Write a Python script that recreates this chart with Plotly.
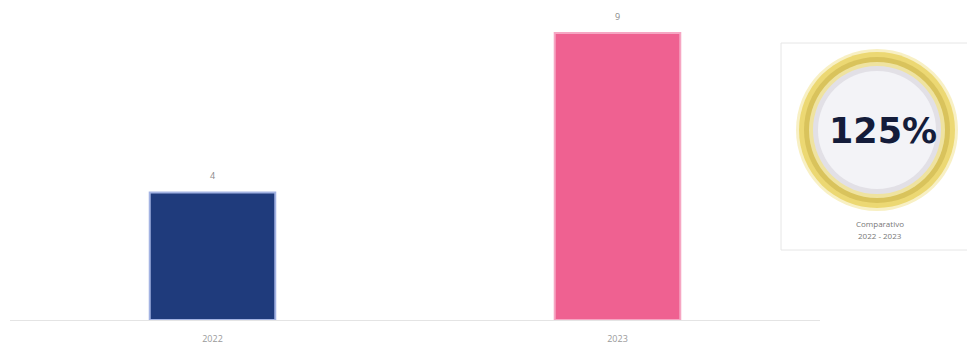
import plotly.graph_objects as go

# chart data
years = ["2022", "2023"]
counts = [4, 9]
bar_colors = ["#1f3b7c", "#ef6191"]
edge_colors = ["#a3b3e3", "#f6a6c3"]
growth_label = "125%"
badge_caption = ["Comparativo", "2022 - 2023"]

# the page body has an 8px margin, so the figure starts at (8, 8) on screen
OFF = 8
W, H = 967, 343
L, R, T, B = 2, 155, 0, 31
PW, PH = W - L - R, H - T - B


def px_x(sx):
    """Screen x in pixels -> paper x."""
    return (sx - OFF - L) / PW


def px_y(sy):
    """Screen y in pixels -> paper y."""
    return (PH - (sy - OFF - T)) / PH


fig = go.Figure()
fig.add_trace(go.Bar(
    x=years, y=counts,
    width=0.31,
    marker=dict(color=bar_colors, line=dict(color=edge_colors, width=2)),
    hoverinfo="x+y",
))

# value labels sitting a little above each bar
annotations = [
    dict(text=str(v), x=i, y=v, xref="x", yref="y", yshift=17,
         xanchor="center", yanchor="middle",
         showarrow=False, font=dict(size=9, color="#8a8a8a"))
    for i, v in enumerate(counts)
]

shapes = []
# badge frame
shapes.append(dict(type="rect", xref="paper", yref="paper",
                   x0=px_x(781), x1=px_x(972), y0=px_y(250), y1=px_y(43),
                   line=dict(color="#e6e6e6", width=1), fillcolor="white"))
# gold ring, drawn as stacked circles
cx, cy = 877, 130
rings = [(81, "#f8f0c4"), (78, "#ecd873"), (73, "#d9c35c"), (68, "#efe3a0"),
         (64, "#e2e0e6"), (59, "#f3f3f7")]
for r, c in rings:
    shapes.append(dict(type="circle", xref="paper", yref="paper",
                       x0=px_x(cx - r), x1=px_x(cx + r),
                       y0=px_y(cy + r), y1=px_y(cy - r),
                       line=dict(width=0), fillcolor=c))

annotations += [
    dict(text=f"<b>{growth_label}</b>", xref="paper", yref="paper",
         x=px_x(883), y=px_y(131), xanchor="center", yanchor="middle",
         showarrow=False,
         font=dict(size=35, color="#141c3a", family="DejaVu Sans")),
    dict(text=badge_caption[0], xref="paper", yref="paper",
         x=px_x(880), y=px_y(223), xanchor="center", yanchor="middle",
         showarrow=False, font=dict(size=8, color="#777777")),
    dict(text=badge_caption[1], xref="paper", yref="paper",
         x=px_x(880), y=px_y(235), xanchor="center", yanchor="middle",
         showarrow=False, font=dict(size=8, color="#777777")),
]

fig.update_layout(
    width=W, height=H,
    margin=dict(l=L, r=R, t=T, b=B),
    plot_bgcolor="white", paper_bgcolor="white",
    showlegend=False,
    shapes=shapes,
    annotations=annotations,
    font=dict(family="Open Sans"),
)
fig.update_xaxes(showline=True, linecolor="#e4e4e4", linewidth=1,
                 tickfont=dict(size=9, color="#9a9a9a"), ticks="",
                 ticklabelstandoff=10,
                 showgrid=False, range=[-0.5, 1.5])
fig.update_yaxes(showticklabels=False, showline=False, zeroline=False,
                 showgrid=False, ticks="",
                 range=[0, 312 / (287 / 9)])

fig.write_html("out.html")
